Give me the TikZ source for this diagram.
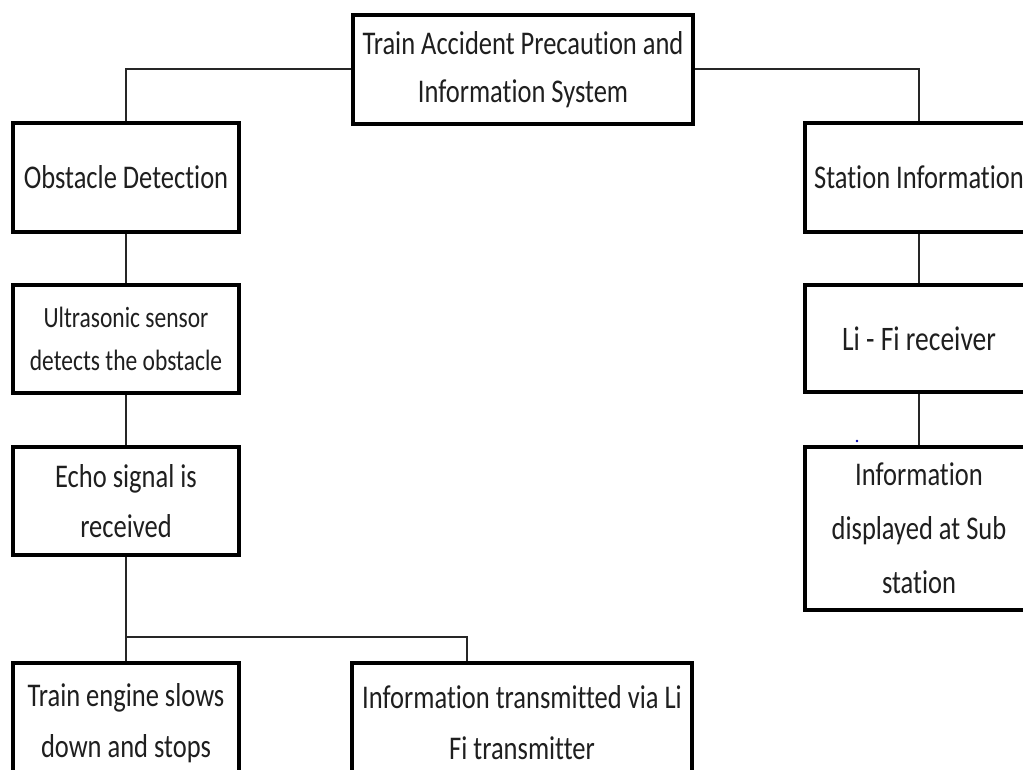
\documentclass[tikz,border=0pt]{standalone}
\usepackage{fontspec}
\setmainfont{Carlito}[RawFeature=-liga]
\usepackage{graphicx}
\newcommand\yl[1]{\scalebox{1}[1.25]{#1}}
\tikzset{
  box/.style={draw=black, line width=3.5pt, fill=white, inner sep=0pt,
    align=center, text=black!88, font=\fontsize{26.5}{48}\selectfont},
  conn/.style={draw=black!85, line width=2pt}
}
\begin{document}
\begin{tikzpicture}[x=1pt,y=-1pt]
\useasboundingbox (0,0) rectangle (1023,770);
\fill[white] (0,0) rectangle (1023,770);
\begin{scope}
\clip (0,0) rectangle (1023,770);
% nodes
\node[box, minimum width=340pt, minimum height=109pt] (top) at (523,69.5)
  {\yl{Train Accident Precaution and}\\\yl{Information System}};
\node[box, minimum width=226pt, minimum height=109pt] (obst) at (126,177.5)
  {\yl{Obstacle Detection}};
\node[box, minimum width=228pt, minimum height=109pt] (station) at (919,177.5)
  {\yl{Station Information}};
\node[box, minimum width=226pt, minimum height=108pt, font=\fontsize{23.5}{43}\selectfont] (ultra) at (126,339)
  {\yl{Ultrasonic sensor}\\\yl{detects the obstacle}};
\node[box, minimum width=226pt, minimum height=108pt, font=\fontsize{26.5}{50}\selectfont] (echo) at (126,501)
  {\yl{Echo signal is}\\\yl{received}};
\node[box, minimum width=228pt, minimum height=107pt, font=\fontsize{27.5}{48}\selectfont] (lifi) at (919,338.5)
  {\yl{Li - Fi receiver}};
\node[box, minimum width=228pt, minimum height=163pt, font=\fontsize{26.5}{54}\selectfont] (info) at (919,528.5)
  {\yl{Information}\\\yl{displayed at Sub}\\\yl{station}};
\node[box, minimum width=226pt, minimum height=120pt, font=\fontsize{26.5}{51}\selectfont] (train) at (126,723)
  {\yl{Train engine slows}\\\yl{down and stops}};
\node[box, minimum width=340pt, minimum height=120pt, font=\fontsize{26.5}{51}\selectfont] (trans) at (522,723)
  {\yl{Information transmitted via Li}\\\yl{Fi transmitter}};
\coordinate (j) at (126,637);
% connectors
\draw[conn] (top.west) -| (obst.north);
\draw[conn] (top.east) -| (station.north);
\draw[conn] (obst.south) -- (ultra.north);
\draw[conn] (ultra.south) -- (echo.north);
\draw[conn] (echo.south) -- (j);
\draw[conn] (j) -- (train.north);
\draw[conn] (j) -| ([xshift=-55pt]trans.north);
\draw[conn] (station.south) -- (lifi.north);
\draw[conn] (lifi.south) -- (info.north);
\fill[blue!70!black] (857,441) circle (1.3pt);
\end{scope}
\end{tikzpicture}
\end{document}
